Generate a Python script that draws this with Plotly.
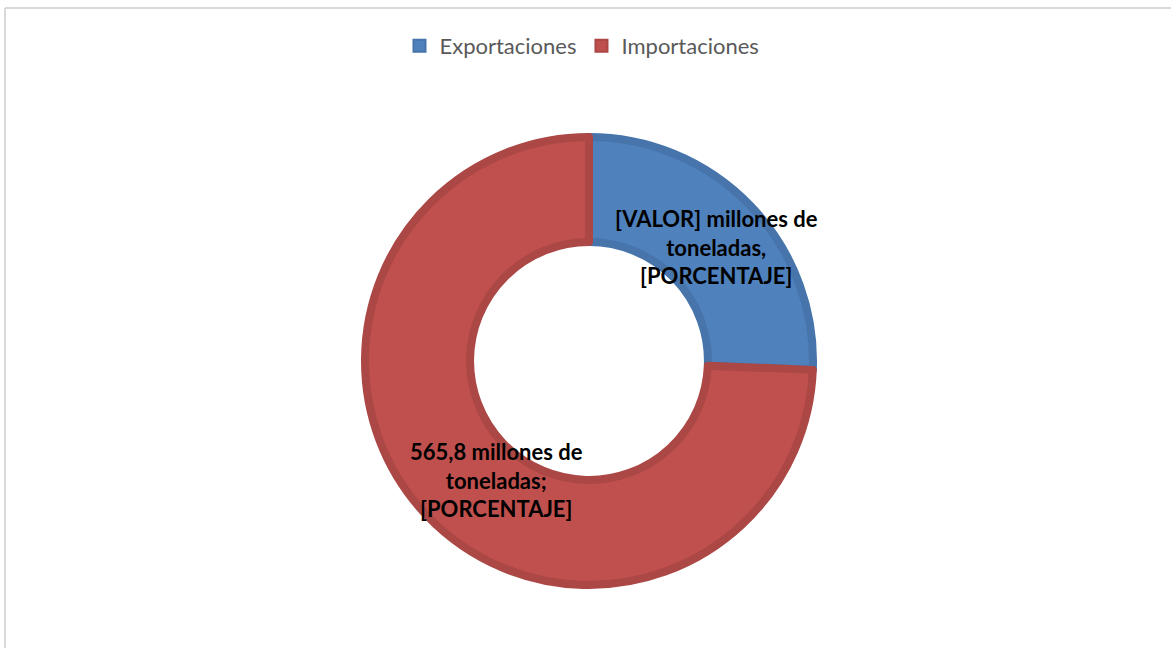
import plotly.graph_objects as go

categories = ["Exportaciones", "Importaciones"]
values = [195.0, 565.8]
value_text = ["[VALOR]", "565,8"]
separators = [",", ";"]
fill_colors = ["#4F81BD", "#C0504D"]
edge_colors = ["#4674AB", "#AB4744"]

W, H = 1171, 648
cx, cy, r = 589, 361, 224

fig = go.Figure()
fig.add_trace(go.Pie(
    labels=categories,
    values=values,
    sort=False,
    direction="clockwise",
    rotation=0,
    hole=0.531,
    textinfo="none",
    hoverinfo="label+value+percent",
    marker=dict(colors=fill_colors, line=dict(color=edge_colors, width=8)),
    domain=dict(x=[(cx - r) / W, (cx + r) / W], y=[(H - cy - r) / H, (H - cy + r) / H]),
))

label_pos = [(716, 247), (496, 480)]
for v, sep, (px, py) in zip(value_text, separators, label_pos):
    fig.add_annotation(
        x=px / W, y=1 - py / H, xref="paper", yref="paper",
        text=f"{v} millones de<br>toneladas{sep}<br>[PORCENTAJE]",
        showarrow=False, align="center", xanchor="center", yanchor="middle",
        font=dict(family="Lato", size=22, color="#000000", weight="bold"),
    )

# chart frame (top and left edges visible)
fig.add_shape(type="line", xref="paper", yref="paper", x0=5 / W, x1=1.01, y0=1 - 8 / H, y1=1 - 8 / H,
              line=dict(color="#D9D9D9", width=2))
fig.add_shape(type="line", xref="paper", yref="paper", x0=5 / W, x1=5 / W, y0=1 - 8 / H, y1=-0.01,
              line=dict(color="#D9D9D9", width=2))

fig.update_layout(
    width=W, height=H,
    margin=dict(l=0, r=0, t=0, b=0),
    paper_bgcolor="white", plot_bgcolor="white",
    showlegend=True,
    legend=dict(orientation="h", x=0.497, xanchor="center", y=1 - 46 / H, yanchor="middle",
                font=dict(family="Lato", size=22, color="#595959"), itemsizing="constant",
                traceorder="normal"),
)

fig.write_html("out.html", config={"displayModeBar": False},
               post_script="document.body.style.margin='0px';")
